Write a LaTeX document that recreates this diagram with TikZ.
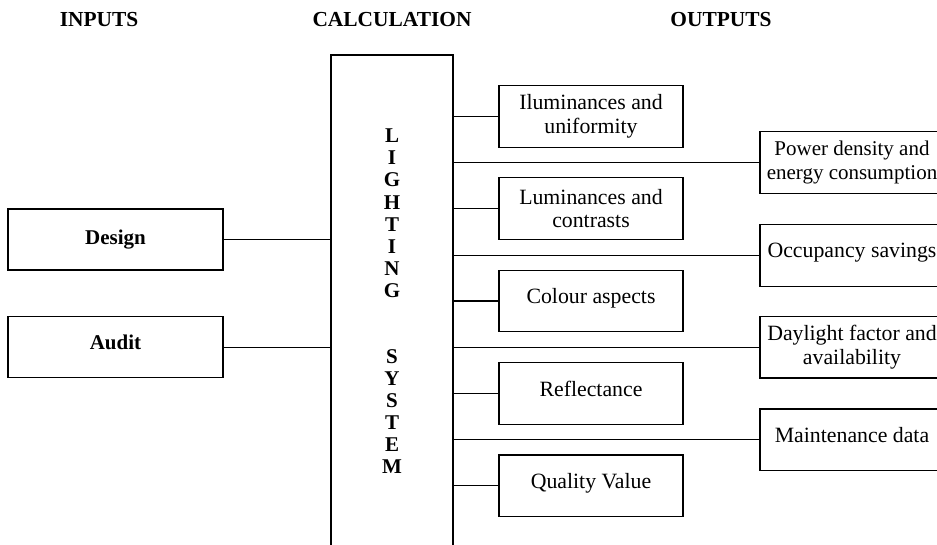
\documentclass[tikz,border=0pt]{standalone}
\usepackage{fontspec}
\setmainfont{Liberation Serif}
\usetikzlibrary{positioning}

\begin{document}
\begin{tikzpicture}[
      x=0.5pt, y=-0.5pt,
      conn/.style={draw=black, line width=0.6pt},
      boxnode/.style={rectangle, draw=black, line width=0.6pt, fill=white,
          align=center, font=\fontsize{10.9pt}{11.8pt}\selectfont,
          inner sep=2pt, outer sep=0pt,
          minimum width=92pt, minimum height=30.75pt},
      inbox/.style={boxnode, font=\fontsize{10.5pt}{11.8pt}\selectfont\bfseries,
          minimum width=107.5pt, minimum height=30.5pt},
      oneline/.style={text height=0.7em, text depth=0.45em},
      head/.style={font=\fontsize{10.7pt}{12pt}\selectfont\bfseries, inner sep=0pt},
    ]
    \useasboundingbox (0,0) rectangle (937,545);
    \clip (0,0) rectangle (937,545);

    %% ── HEADINGS ────────────────────────────────────────────────────────────
    \node[head] at ( 99, 20) (inputs) {INPUTS};
    \node[head] at (392, 20) (calc)   {CALCULATION};
    \node[head] at (721, 20) (outputs) {OUTPUTS};

    %% ── INPUTS ──────────────────────────────────────────────────────────────
    \node[inbox] at (115.5, 239.5) (design) {Design};
    \node[inbox, oneline] at (115.5, 347.3) (audit) {Audit};

    %% ── LIGHTING SYSTEM (open at the bottom of the page) ───────────────────
    \node[draw=black, line width=0.6pt, outer sep=0pt, inner sep=0pt,
      minimum width=61pt, minimum height=246.5pt, anchor=north,
      align=center, font=\fontsize{10.5pt}{11.04pt}\selectfont\bfseries]
    at (392, 55) (system)
    {L\\I\\G\\H\\T\\I\\N\\G\\~\\~\\S\\Y\\S\\T\\E\\M};

    %% ── OUTPUTS, near column ────────────────────────────────────────────────
    \node[boxnode] at (591, 116.5) (illum) {Iluminances and\\uniformity};
    \node[boxnode] at (591, 208.5) (lumin) {Luminances and\\contrasts};
    \node[boxnode, oneline] at (591, 301.0) (colour)  {Colour aspects};
    \node[boxnode, oneline] at (591, 393.5) (reflect) {Reflectance};
    \node[boxnode, oneline] at (591, 485.7) (quality) {Quality Value};

    %% ── OUTPUTS, far column (cut by the right edge) ─────────────────────────
    \node[boxnode, font=\fontsize{10.5pt}{11.8pt}\selectfont]
    at (852, 162.5) (power) {Power density and\\energy consumption};
    \node[boxnode, oneline] at (852, 255.5) (occup) {Occupancy savings};
    \node[boxnode] at (852, 347.2) (daylight) {Daylight factor and\\availability};
    \node[boxnode, oneline] at (852, 439.7) (maint) {Maintenance data};

    %% ── CONNECTORS ──────────────────────────────────────────────────────────
    \draw[conn] (design.east) -- (design.east -| system.west);
    \draw[conn] (audit.east)  -- (audit.east -| system.west);

    \draw[conn] (illum.west -| system.east)    -- (illum.west);
    \draw[conn] (power.west -| system.east)    -- (power.west);
    \draw[conn] (lumin.west -| system.east)    -- (lumin.west);
    \draw[conn] (occup.west -| system.east)    -- (occup.west);
    \draw[conn] (colour.west -| system.east)   -- (colour.west);
    \draw[conn] (daylight.west -| system.east) -- (daylight.west);
    \draw[conn] (reflect.west -| system.east)  -- (reflect.west);
    \draw[conn] (maint.west -| system.east)    -- (maint.west);
    \draw[conn] (quality.west -| system.east)  -- (quality.west);

  \end{tikzpicture}
\end{document}
